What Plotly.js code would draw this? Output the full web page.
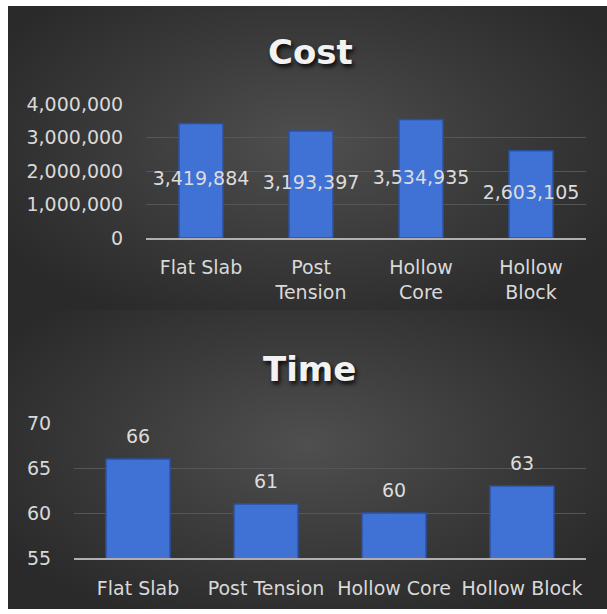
<!DOCTYPE html>
<html>
<head>
<meta charset="utf-8">
<script src="https://cdn.plot.ly/plotly-3.0.1.min.js"></script>
<style>
  html, body { margin: 0; padding: 0; background: #ffffff; }
  #wrap { position: relative; width: 607px; height: 614px; overflow: hidden; }
  #bgTop { position: absolute; left: 8px; top: 6px; width: 599px; height: 304px;
    background: radial-gradient(ellipse 60% 65% at 50% 45%, #4f4f4f 0%, #3a3a3a 55%, #2a2a2a 100%); }
  #bgBot { position: absolute; left: 8px; top: 310px; width: 599px; height: 299px;
    background: radial-gradient(ellipse 60% 65% at 50% 45%, #4f4f4f 0%, #3a3a3a 55%, #2a2a2a 100%); }
  #chart { position: absolute; left: 0; top: 0; width: 607px; height: 614px; }
</style>
</head>
<body>
<div id="wrap">
  <div id="bgTop"></div>
  <div id="bgBot"></div>
  <div id="chart"></div>
</div>
<script>
// ---- data ----
const costCategories = ["Flat Slab", "Post<br>Tension", "Hollow<br>Core", "Hollow<br>Block"];
const costValues = [3419884, 3193397, 3534935, 2603105];
const costTicks = [0, 1000000, 2000000, 3000000, 4000000];
const costTickLabels = ["0", "1,000,000", "2,000,000", "3,000,000", "4,000,000"];

const timeCategories = ["Flat Slab", "Post Tension", "Hollow Core", "Hollow Block"];
const timeValues = [66, 61, 60, 63];
const timeTicks = [55, 60, 65, 70];
const timeTickLabels = ["55", "60", "65", "70"];

// ---- styles ----
const FONT = "DejaVu Sans";
const tickColor = "#d9d9d9";
const gridColor = "#565656";
const axisLineColor = "#b0b0b0";
const barColor = "#3f72d4";
const barLine = "#2b519e";

const fmt = v => v.toLocaleString("en-US");

const traces = [
  {
    type: "bar", x: costCategories, y: costValues, xaxis: "x", yaxis: "y",
    width: 0.4, marker: { color: barColor, line: { color: barLine, width: 1.5 } },
    hoverinfo: "skip", showlegend: false
  },
  {
    type: "scatter", mode: "text", x: costCategories, y: costValues.map(v => v / 2),
    text: costValues.map(fmt), xaxis: "x", yaxis: "y",
    textfont: { family: FONT, size: 19, color: "#dcdcdc" }, textposition: "middle center",
    hoverinfo: "skip", showlegend: false, cliponaxis: false
  },
  {
    type: "bar", x: timeCategories, y: timeValues, xaxis: "x2", yaxis: "y2",
    width: 0.5, marker: { color: barColor, line: { color: barLine, width: 1.5 } },
    hoverinfo: "skip", showlegend: false
  }
];

const annotations = [
  { text: "Cost", xref: "paper", yref: "paper", x: 0.512, y: (614 - 52) / 614,
    xanchor: "center", yanchor: "middle", showarrow: false,
    font: { family: FONT, size: 34, color: "#f2f2f2", weight: "bold", shadow: "2px 3px 4px rgba(0,0,0,0.85)" } },
  { text: "Time", xref: "paper", yref: "paper", x: 0.51, y: (614 - 369) / 614,
    xanchor: "center", yanchor: "middle", showarrow: false,
    font: { family: FONT, size: 34, color: "#f2f2f2", weight: "bold", shadow: "2px 3px 4px rgba(0,0,0,0.85)" } }
];
timeCategories.forEach((c, i) => {
  annotations.push({
    text: String(timeValues[i]), x: c, y: timeValues[i], xref: "x2", yref: "y2",
    showarrow: false, yanchor: "middle", yshift: 23,
    font: { family: FONT, size: 19, color: "#dcdcdc" }
  });
});

const axisCommon = {
  tickfont: { family: FONT, size: 19, color: tickColor },
  fixedrange: true
};

const layout = {
  width: 607, height: 614,
  margin: { l: 0, r: 0, t: 0, b: 0 },
  paper_bgcolor: "rgba(0,0,0,0)",
  plot_bgcolor: "rgba(0,0,0,0)",
  showlegend: false,
  bargap: 0,
  xaxis: Object.assign({}, axisCommon, {
    domain: [146 / 607, 586 / 607], anchor: "y",
    type: "category", showgrid: false, zeroline: false,
    showline: true, linecolor: axisLineColor, linewidth: 2,
    ticks: "outside", ticklen: 11, tickcolor: "rgba(0,0,0,0)"
  }),
  yaxis: Object.assign({}, axisCommon, {
    domain: [(614 - 238) / 614, (614 - 104) / 614], anchor: "x",
    range: [0, 4000000], tickvals: costTicks, ticktext: costTickLabels,
    showgrid: true, gridcolor: gridColor, gridwidth: 1, zeroline: false, showline: false,
    ticks: "outside", ticklen: 18, tickcolor: "rgba(0,0,0,0)"
  }),
  xaxis2: Object.assign({}, axisCommon, {
    domain: [74 / 607, 586 / 607], anchor: "y2",
    type: "category", showgrid: false, zeroline: false,
    showline: true, linecolor: axisLineColor, linewidth: 2,
    ticks: "outside", ticklen: 12, tickcolor: "rgba(0,0,0,0)"
  }),
  yaxis2: Object.assign({}, axisCommon, {
    domain: [(614 - 558) / 614, (614 - 423) / 614], anchor: "x2",
    range: [55, 70], tickvals: timeTicks, ticktext: timeTickLabels,
    showgrid: true, gridcolor: gridColor, gridwidth: 1, zeroline: false, showline: false,
    ticks: "outside", ticklen: 18, tickcolor: "rgba(0,0,0,0)"
  }),
  annotations: annotations
};

Plotly.newPlot("chart", traces, layout, { staticPlot: true, displayModeBar: false });
</script>
</body>
</html>
